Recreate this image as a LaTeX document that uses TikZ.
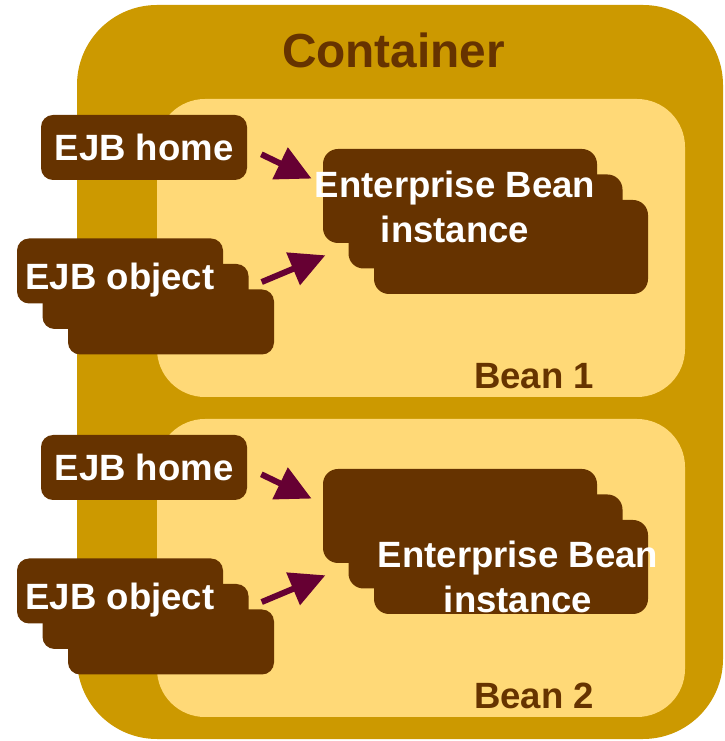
\documentclass[tikz,border=0pt]{standalone}
\usepackage{fontspec}
\setmainfont{Liberation Sans}
\usepackage{xcolor}
\usepackage{tikz}
\usetikzlibrary{arrows.meta}

\definecolor{contgold}{HTML}{CC9900}
\definecolor{beanyellow}{HTML}{FFD977}
\definecolor{ejbbrown}{HTML}{663300}
\definecolor{callpurple}{HTML}{660033}

\begin{document}
\begin{tikzpicture}[
  contbox/.style   = {fill=contgold, rounded corners=2cm,
                      minimum width=16.15cm, minimum height=18.35cm},
  beanbox/.style   = {fill=beanyellow, rounded corners=1.2cm,
                      minimum width=13.2cm, minimum height=7.45cm},
  ejbbox/.style    = {fill=ejbbrown, rounded corners=0.3cm,
                      minimum width=5.15cm, minimum height=1.625cm,
                      inner sep=0pt, text=white, text depth=0pt,
                      font=\fontsize{26pt}{32pt}\selectfont\bfseries},
  objbox/.style    = {ejbbox, text height=27pt},
  instbox/.style   = {fill=ejbbrown, rounded corners=0.375cm,
                      minimum width=6.85cm, minimum height=2.35cm,
                      inner sep=0pt},
  insttext/.style  = {text=white, align=center, inner sep=0pt, text depth=0pt,
                      font=\fontsize{26pt}{32pt}\selectfont\bfseries},
  beanlabel/.style = {text=ejbbrown, inner sep=0pt, text depth=0pt,
                      font=\fontsize{26pt}{32pt}\selectfont\bfseries},
  titlestyle/.style= {text=ejbbrown, inner sep=0pt, text depth=0pt,
                      font=\fontsize{34pt}{40pt}\selectfont\bfseries},
  arr/.style       = {-{Triangle[length=0.875cm, width=0.85cm]},
                      line width=0.15cm, callpurple},
]
\useasboundingbox (0,0) rectangle (18.125,18.525);

%% ── Container ────────────────────────────────────────────────────────────────
\node[contbox] (cont) at (10.0,9.225) {};
\node[titlestyle] (contT) at (9.84,17.275) {Container};

%% ── Bean 1 ───────────────────────────────────────────────────────────────────
\node[beanbox] (beanA) at (10.525,12.325) {};
\node[beanlabel] (beanAT) at (13.35,9.1375) {Bean 1};

\node[ejbbox] (homeA) at (3.6,14.8375) {EJB home};

\node[ejbbox] (objA3) at (4.275,10.475) {};
\node[ejbbox] (objA2) at (3.6375,11.1125) {};
\node[objbox] (objA1) at (3.0,11.75) {EJB object};

\node[instbox] (instA3) at (12.775,12.35) {};
\node[instbox] (instA2) at (12.1375,12.9875) {};
\node[instbox] (instA1) at (11.5,13.625) {};
\node[insttext] (instAT) at (11.375,13.3575) {Enterprise Bean\\instance};

\draw[arr, shorten <=0.39cm, shorten >=0.31cm] (homeA.east) -- (instA1.175);
\draw[arr, shorten <=0.35cm, shorten >=0.62cm] (objA2.5) -- (instA2.190);

%% ── Bean 2  (8cm lower) ──────────────────────────────────────────────────────
\node[beanbox] (beanB) at (10.525,4.325) {};
\node[beanlabel] (beanBT) at (13.35,1.1375) {Bean 2};

\node[ejbbox] (homeB) at (3.6,6.8375) {EJB home};

\node[ejbbox] (objB3) at (4.275,2.475) {};
\node[ejbbox] (objB2) at (3.6375,3.1125) {};
\node[objbox] (objB1) at (3.0,3.75) {EJB object};

\node[instbox] (instB3) at (12.775,4.35) {};
\node[instbox] (instB2) at (12.1375,4.9875) {};
\node[instbox] (instB1) at (11.5,5.625) {};
\node[insttext] (instBT) at (12.95,4.1075) {Enterprise Bean\\instance};

\draw[arr, shorten <=0.39cm, shorten >=0.31cm] (homeB.east) -- (instB1.175);
\draw[arr, shorten <=0.35cm, shorten >=0.62cm] (objB2.5) -- (instB2.190);

\end{tikzpicture}
\end{document}
